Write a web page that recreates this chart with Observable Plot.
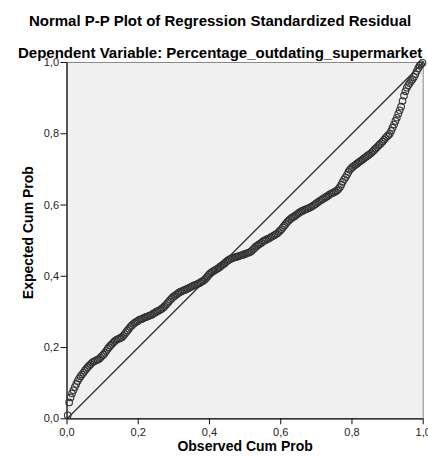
<!DOCTYPE html>
<html>
<head>
<meta charset="utf-8">
<script src="https://cdn.jsdelivr.net/npm/d3@7"></script>
<script src="https://cdn.jsdelivr.net/npm/@observablehq/plot@0.6"></script>
<style>
  body { margin: 0; background: #fff; }
  #chart { width: 428px; height: 459px; }
</style>
</head>
<body>
<div id="chart"></div>
<script>
// Observed cumulative probability of each standardized residual (x)
const observed = [
  0.002, 0.006, 0.010, 0.014, 0.018, 0.022, 0.026, 0.030, 0.034, 0.038,
  0.042, 0.046, 0.050, 0.054, 0.058, 0.062, 0.066, 0.070, 0.074, 0.078,
  0.082, 0.086, 0.090, 0.094, 0.098, 0.102, 0.106, 0.110, 0.114, 0.118,
  0.122, 0.126, 0.130, 0.134, 0.138, 0.142, 0.146, 0.150, 0.154, 0.158,
  0.162, 0.166, 0.170, 0.174, 0.178, 0.182, 0.186, 0.190, 0.194, 0.198,
  0.202, 0.206, 0.210, 0.214, 0.218, 0.222, 0.226, 0.230, 0.234, 0.238,
  0.242, 0.246, 0.250, 0.254, 0.258, 0.262, 0.266, 0.270, 0.274, 0.278,
  0.282, 0.286, 0.290, 0.294, 0.298, 0.302, 0.306, 0.310, 0.314, 0.318,
  0.322, 0.326, 0.330, 0.334, 0.338, 0.342, 0.346, 0.350, 0.354, 0.358,
  0.362, 0.366, 0.370, 0.374, 0.378, 0.382, 0.386, 0.390, 0.394, 0.398,
  0.402, 0.406, 0.410, 0.414, 0.418, 0.422, 0.426, 0.430, 0.434, 0.438,
  0.442, 0.446, 0.450, 0.454, 0.458, 0.462, 0.466, 0.470, 0.474, 0.478,
  0.482, 0.486, 0.490, 0.494, 0.498, 0.502, 0.506, 0.510, 0.514, 0.518,
  0.522, 0.526, 0.530, 0.534, 0.538, 0.542, 0.546, 0.550, 0.554, 0.558,
  0.562, 0.566, 0.570, 0.574, 0.578, 0.582, 0.586, 0.590, 0.594, 0.598,
  0.602, 0.606, 0.610, 0.614, 0.618, 0.622, 0.626, 0.630, 0.634, 0.638,
  0.642, 0.646, 0.650, 0.654, 0.658, 0.662, 0.666, 0.670, 0.674, 0.678,
  0.682, 0.686, 0.690, 0.694, 0.698, 0.702, 0.706, 0.710, 0.714, 0.718,
  0.722, 0.726, 0.730, 0.734, 0.738, 0.742, 0.746, 0.750, 0.754, 0.758,
  0.762, 0.766, 0.770, 0.774, 0.778, 0.782, 0.786, 0.790, 0.794, 0.798,
  0.802, 0.806, 0.810, 0.814, 0.818, 0.822, 0.826, 0.830, 0.834, 0.838,
  0.842, 0.846, 0.850, 0.854, 0.858, 0.862, 0.866, 0.870, 0.874, 0.878,
  0.882, 0.886, 0.890, 0.894, 0.898, 0.902, 0.906, 0.910, 0.914, 0.918,
  0.922, 0.926, 0.930, 0.934, 0.938, 0.942, 0.946, 0.950, 0.954, 0.958,
  0.962, 0.966, 0.970, 0.974, 0.978, 0.982, 0.986, 0.990, 0.994, 0.998
];

// Expected cumulative probability under the normal distribution (y)
const expected = [
  0.010, 0.046, 0.060, 0.071, 0.080, 0.089, 0.098, 0.106, 0.113, 0.119,
  0.124, 0.129, 0.135, 0.140, 0.145, 0.149, 0.153, 0.157, 0.160, 0.162,
  0.164, 0.166, 0.168, 0.172, 0.176, 0.180, 0.185, 0.190, 0.196, 0.201,
  0.206, 0.210, 0.214, 0.218, 0.221, 0.223, 0.225, 0.227, 0.229, 0.233,
  0.238, 0.243, 0.248, 0.253, 0.258, 0.262, 0.266, 0.269, 0.272, 0.274,
  0.277, 0.279, 0.280, 0.282, 0.284, 0.286, 0.287, 0.289, 0.290, 0.292,
  0.295, 0.297, 0.300, 0.302, 0.304, 0.306, 0.309, 0.312, 0.316, 0.320,
  0.325, 0.329, 0.334, 0.338, 0.342, 0.345, 0.348, 0.351, 0.354, 0.356,
  0.358, 0.360, 0.361, 0.363, 0.365, 0.367, 0.369, 0.371, 0.373, 0.375,
  0.376, 0.378, 0.380, 0.382, 0.385, 0.387, 0.390, 0.394, 0.399, 0.404,
  0.408, 0.411, 0.414, 0.416, 0.419, 0.421, 0.424, 0.427, 0.430, 0.433,
  0.436, 0.440, 0.443, 0.446, 0.448, 0.450, 0.451, 0.453, 0.454, 0.455,
  0.456, 0.458, 0.459, 0.460, 0.462, 0.463, 0.465, 0.466, 0.468, 0.471,
  0.475, 0.479, 0.483, 0.486, 0.489, 0.491, 0.494, 0.498, 0.500, 0.502,
  0.504, 0.506, 0.508, 0.511, 0.513, 0.515, 0.518, 0.520, 0.524, 0.528,
  0.532, 0.537, 0.542, 0.547, 0.552, 0.556, 0.560, 0.563, 0.566, 0.568,
  0.571, 0.574, 0.577, 0.580, 0.582, 0.584, 0.586, 0.588, 0.589, 0.591,
  0.593, 0.595, 0.598, 0.600, 0.603, 0.606, 0.609, 0.612, 0.614, 0.617,
  0.619, 0.622, 0.624, 0.627, 0.630, 0.632, 0.634, 0.636, 0.638, 0.641,
  0.645, 0.650, 0.657, 0.665, 0.672, 0.678, 0.685, 0.693, 0.699, 0.703,
  0.707, 0.710, 0.713, 0.716, 0.719, 0.722, 0.725, 0.728, 0.731, 0.734,
  0.737, 0.740, 0.743, 0.746, 0.750, 0.754, 0.758, 0.762, 0.766, 0.770,
  0.774, 0.778, 0.783, 0.788, 0.792, 0.796, 0.800, 0.808, 0.817, 0.826,
  0.836, 0.845, 0.856, 0.866, 0.876, 0.892, 0.907, 0.919, 0.929, 0.936,
  0.942, 0.948, 0.953, 0.959, 0.967, 0.976, 0.984, 0.991, 0.995, 0.999
];

// Axis ticks and the line of perfect agreement
const ticks = [0, 0.2, 0.4, 0.6, 0.8, 1.0];
const diagonal = [0, 1];

const titleText = "Normal P-P Plot of Regression Standardized Residual";
const subtitleText = "Dependent Variable: Percentage_outdating_supermarket";
const xLabel = "Observed Cum Prob";
const yLabel = "Expected Cum Prob";

const points = observed.map((o, i) => ({observed: o, expected: expected[i]}));
const commaFormat = d => d.toFixed(1).replace(".", ",");

const chart = Plot.plot({
  width: 428,
  height: 459,
  marginTop: 62,
  marginRight: 5.3,
  marginBottom: 40.7,
  marginLeft: 66.5,
  style: {fontFamily: "'Liberation Sans', Arial, sans-serif", fontSize: "11px", background: "#fff", color: "#222"},
  x: {domain: [0, 1], axis: null},
  y: {domain: [0, 1], axis: null},
  marks: [
    Plot.frame({fill: "#f0f0f0", stroke: "#8a8a8a"}),
    Plot.axisX(ticks, {tickSize: 6, tickPadding: 3, tickFormat: commaFormat, label: null, fontSize: 11, stroke: "#111"}),
    Plot.axisY(ticks, {tickSize: 6, tickPadding: 2, tickFormat: commaFormat, label: null, fontSize: 11, stroke: "#111"}),
    Plot.ruleX([0], {stroke: "#111", strokeWidth: 1.2}),
    Plot.ruleY([0], {stroke: "#111", strokeWidth: 1.2}),
    Plot.line(diagonal, {x: d => d, y: d => d, stroke: "#333", strokeWidth: 1.3}),
    Plot.dot(points, {x: "observed", y: "expected", r: 3.3, stroke: "#333", strokeWidth: 1.1, fill: "none"}),
    Plot.text([titleText], {frameAnchor: "top", lineAnchor: "bottom", dx: -25, dy: -37, fontSize: 15, fontWeight: "bold", fill: "#000"}),
    Plot.text([subtitleText], {frameAnchor: "top", lineAnchor: "bottom", dx: -25, dy: -5, fontSize: 15, fontWeight: "bold", fill: "#000"}),
    Plot.text([xLabel], {frameAnchor: "bottom", lineAnchor: "bottom", dx: 0, dy: 31.7, fontSize: 14, fontWeight: "bold", fill: "#000"}),
    Plot.text([yLabel], {frameAnchor: "left", textAnchor: "middle", lineAnchor: "middle", rotate: -90, dx: -38, dy: -8, fontSize: 14, fontWeight: "bold", fill: "#000"})
  ]
});

document.getElementById("chart").appendChild(chart);
</script>
</body>
</html>
